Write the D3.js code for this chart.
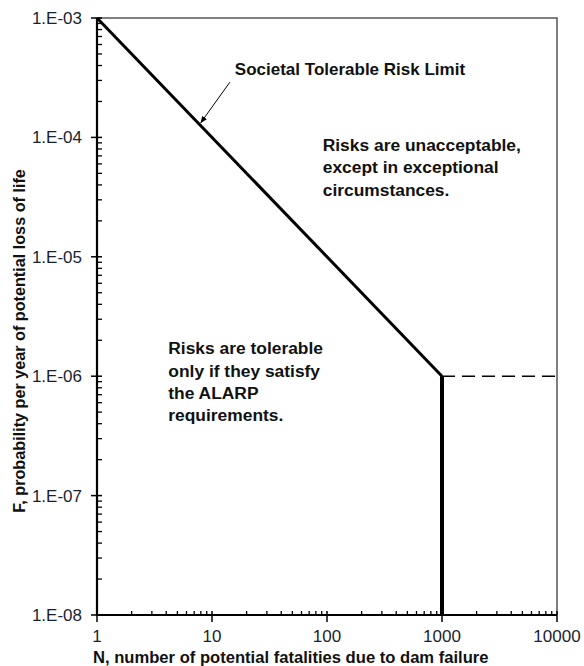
<!DOCTYPE html>
<html><head><meta charset="utf-8">
<script src="https://cdn.jsdelivr.net/npm/d3@7"></script>
<style>body{margin:0;background:#fff}svg{display:block}</style>
</head><body><svg id="c" width="584" height="666"></svg>
<script>
// ---- data ----
const xTickValues = [1, 10, 100, 1000, 10000];
const xTickLabels = ["1", "10", "100", "1000", "10000"];
const yTickValues = [1e-3, 1e-4, 1e-5, 1e-6, 1e-7, 1e-8];
const yTickLabels = ["1.E-03", "1.E-04", "1.E-05", "1.E-06", "1.E-07", "1.E-08"];
const limitN = [1, 1000];          // societal tolerable risk limit line
const limitF = [1e-3, 1e-6];
const verticalN = [1000, 1000];    // vertical limit at N = 1000
const verticalF = [1e-6, 1e-8];
const dashedN = [1000, 10000];     // dashed continuation
const dashedF = [1e-6, 1e-6];
const arrowN = [14.3, 8.0];
const arrowF = [2.9e-4, 1.33e-4];
const labelTitle = "Societal Tolerable Risk Limit";
const labelTitleAt = [15.8, 3.33e-4];
const labelUnacceptable = ["Risks are unacceptable,", "except in exceptional", "circumstances."];
const labelUnacceptableAt = [91.8, 7.69e-5];
const labelTolerable = ["Risks are tolerable", "only if they satisfy", "the ALARP", "requirements."];
const labelTolerableAt = [4.17, 1.53e-6];
const xTitle = "N, number of potential fatalities due to dam failure";
const yTitle = "F, probability per year of potential loss of life";

// ---- chart ----
const svg = d3.select("#c");
const font = "'Liberation Sans', Arial, sans-serif";
const L = 97, R = 557, T = 18, B = 615;
const x = d3.scaleLog().domain([1, 10000]).range([L, R]);
const y = d3.scaleLog().domain([1e-8, 1e-3]).range([B, T]);

// frame top/right
svg.append("path").attr("d", `M${L},${T}H${R}V${B}`).attr("fill", "none")
  .attr("stroke", "#555").attr("stroke-width", 1.5);

// minor ticks
const xMinor = [], yMinor = [];
for (let d = 1; d < 10000; d *= 10) for (let k = 2; k <= 9; k++) xMinor.push(d * k);
for (let d = 1e-8; d < 1e-3 * 0.99; d *= 10) for (let k = 2; k <= 9; k++) yMinor.push(d * k);

const axG = svg.append("g").attr("stroke", "#000");
axG.selectAll(".xm").data(xMinor).join("line")
  .attr("x1", d => x(d)).attr("x2", d => x(d)).attr("y1", B).attr("y2", B - 4).attr("stroke-width", 1.3);
axG.selectAll(".xM").data(xTickValues).join("line")
  .attr("x1", d => x(d)).attr("x2", d => x(d)).attr("y1", B - 4).attr("y2", B + 7).attr("stroke-width", 1.5);
axG.selectAll(".ym").data(yMinor).join("line")
  .attr("y1", d => y(d)).attr("y2", d => y(d)).attr("x1", L).attr("x2", L + 5).attr("stroke-width", 1.3);
axG.selectAll(".yM").data(yTickValues).join("line")
  .attr("y1", d => y(d)).attr("y2", d => y(d)).attr("x1", L - 6).attr("x2", L + 5).attr("stroke-width", 1.5);
// axis lines
axG.append("line").attr("x1", L).attr("x2", L).attr("y1", T).attr("y2", B + 1).attr("stroke-width", 2.2);
axG.append("line").attr("x1", L - 1).attr("x2", R).attr("y1", B).attr("y2", B).attr("stroke-width", 2.2);

// tick labels
svg.selectAll(".xl").data(xTickValues).join("text")
  .attr("x", d => x(d)).attr("y", B + 27).attr("text-anchor", "middle")
  .attr("font-family", font).attr("font-size", 17).attr("fill", "#1a1f2e")
  .text((d, i) => xTickLabels[i]);
svg.selectAll(".yl").data(yTickValues).join("text")
  .attr("x", L - 15).attr("y", d => y(d) + 6).attr("text-anchor", "end")
  .attr("font-family", font).attr("font-size", 17).attr("fill", "#1a1f2e")
  .text((d, i) => yTickLabels[i]);

// axis titles
svg.append("text").attr("x", 93).attr("y", 663).attr("font-family", font)
  .attr("font-size", 16.6).attr("font-weight", "bold").attr("fill", "#111").text(xTitle);
svg.append("text").attr("transform", "translate(25,341) rotate(-90)").attr("text-anchor", "middle")
  .attr("font-family", font).attr("font-size", 16.2).attr("font-weight", "bold").attr("fill", "#111").text(yTitle);

// lines
const line = d3.line().x(d => x(d[0])).y(d => y(d[1]));
svg.append("path").attr("d", line(limitN.map((n, i) => [n, limitF[i]])))
  .attr("fill", "none").attr("stroke", "#000").attr("stroke-width", 3);
svg.append("path").attr("d", line(verticalN.map((n, i) => [n, verticalF[i]])))
  .attr("fill", "none").attr("stroke", "#000").attr("stroke-width", 4);
svg.append("path").attr("d", line(dashedN.map((n, i) => [n, dashedF[i]])))
  .attr("fill", "none").attr("stroke", "#000").attr("stroke-width", 1.5).attr("stroke-dasharray", "13,7");

// arrow
svg.append("defs").append("marker").attr("id", "ah").attr("viewBox", "0 0 10 10")
  .attr("refX", 9).attr("refY", 5).attr("markerWidth", 7).attr("markerHeight", 7).attr("orient", "auto")
  .append("path").attr("d", "M0,1L10,5L0,9z").attr("fill", "#000");
svg.append("path").attr("d", line(arrowN.map((n, i) => [n, arrowF[i]])))
  .attr("stroke", "#000").attr("stroke-width", 1).attr("marker-end", "url(#ah)");

// annotations
svg.append("text").attr("x", x(labelTitleAt[0])).attr("y", y(labelTitleAt[1]))
  .attr("font-family", font).attr("font-size", 17).attr("font-weight", "bold").attr("fill", "#111").text(labelTitle);
function block(lines, at) {
  const t = svg.append("text").attr("font-family", font).attr("font-size", 17.4)
    .attr("font-weight", "bold").attr("fill", "#111");
  lines.forEach((s, i) => t.append("tspan").attr("x", x(at[0])).attr("y", y(at[1]) + i * 22.4).text(s));
}
block(labelUnacceptable, labelUnacceptableAt);
block(labelTolerable, labelTolerableAt);
</script></body></html>
